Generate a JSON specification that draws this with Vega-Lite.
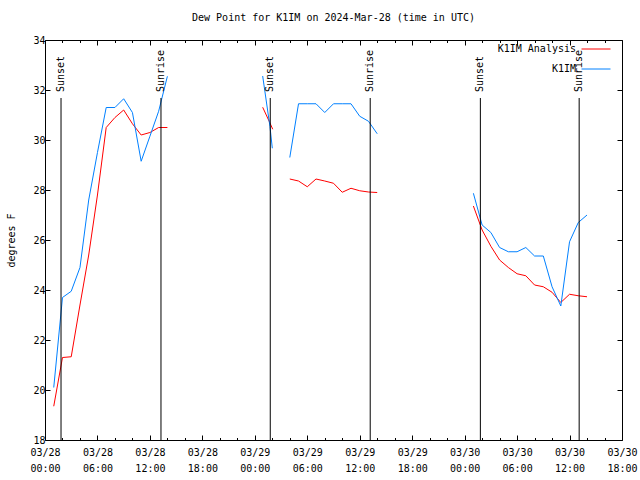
{
  "$schema": "https://vega.github.io/schema/vega-lite/v6.json",
  "width": 577,
  "height": 400,
  "autosize": {"type": "none"},
  "padding": {"left": 45, "top": 40, "right": 18, "bottom": 40},
  "background": "white",
  "title": {"text": "Dew Point for K1IM on 2024-Mar-28 (time in UTC)", "font": "DejaVu Sans Mono", "fontSize": 10, "fontWeight": "normal", "offset": 11, "anchor": "middle", "color": "black"},
  "config": {
    "view": {"stroke": "black", "strokeWidth": 1},
    "font": "DejaVu Sans Mono",
    "axis": {"domain": false, "grid": false, "labelFont": "DejaVu Sans Mono", "labelFontSize": 10, "labelColor": "black", "tickColor": "black", "titleFont": "DejaVu Sans Mono", "titleFontSize": 10, "titleFontWeight": "normal", "titleColor": "black"}
  },
  "datasets": {
    "dew": [
      {"t": "2024-03-28T01:00:00Z", "v": 19.35, "s": "K1IM Analysis", "g": "r1"},
      {"t": "2024-03-28T02:00:00Z", "v": 21.3, "s": "K1IM Analysis", "g": "r1"},
      {"t": "2024-03-28T03:00:00Z", "v": 21.33, "s": "K1IM Analysis", "g": "r1"},
      {"t": "2024-03-28T04:00:00Z", "v": 23.4, "s": "K1IM Analysis", "g": "r1"},
      {"t": "2024-03-28T05:00:00Z", "v": 25.4, "s": "K1IM Analysis", "g": "r1"},
      {"t": "2024-03-28T06:00:00Z", "v": 27.8, "s": "K1IM Analysis", "g": "r1"},
      {"t": "2024-03-28T07:00:00Z", "v": 30.5, "s": "K1IM Analysis", "g": "r1"},
      {"t": "2024-03-28T08:00:00Z", "v": 30.9, "s": "K1IM Analysis", "g": "r1"},
      {"t": "2024-03-28T09:00:00Z", "v": 31.2, "s": "K1IM Analysis", "g": "r1"},
      {"t": "2024-03-28T10:00:00Z", "v": 30.65, "s": "K1IM Analysis", "g": "r1"},
      {"t": "2024-03-28T11:00:00Z", "v": 30.2, "s": "K1IM Analysis", "g": "r1"},
      {"t": "2024-03-28T12:00:00Z", "v": 30.3, "s": "K1IM Analysis", "g": "r1"},
      {"t": "2024-03-28T13:00:00Z", "v": 30.5, "s": "K1IM Analysis", "g": "r1"},
      {"t": "2024-03-28T14:00:00Z", "v": 30.5, "s": "K1IM Analysis", "g": "r1"},
      {"t": "2024-03-28T01:00:00Z", "v": 20.1, "s": "K1IM", "g": "b1"},
      {"t": "2024-03-28T02:00:00Z", "v": 23.7, "s": "K1IM", "g": "b1"},
      {"t": "2024-03-28T03:00:00Z", "v": 23.95, "s": "K1IM", "g": "b1"},
      {"t": "2024-03-28T04:00:00Z", "v": 24.9, "s": "K1IM", "g": "b1"},
      {"t": "2024-03-28T05:00:00Z", "v": 27.6, "s": "K1IM", "g": "b1"},
      {"t": "2024-03-28T06:00:00Z", "v": 29.5, "s": "K1IM", "g": "b1"},
      {"t": "2024-03-28T07:00:00Z", "v": 31.3, "s": "K1IM", "g": "b1"},
      {"t": "2024-03-28T08:00:00Z", "v": 31.3, "s": "K1IM", "g": "b1"},
      {"t": "2024-03-28T09:00:00Z", "v": 31.65, "s": "K1IM", "g": "b1"},
      {"t": "2024-03-28T10:00:00Z", "v": 31.1, "s": "K1IM", "g": "b1"},
      {"t": "2024-03-28T11:00:00Z", "v": 29.15, "s": "K1IM", "g": "b1"},
      {"t": "2024-03-28T12:00:00Z", "v": 30.15, "s": "K1IM", "g": "b1"},
      {"t": "2024-03-28T13:00:00Z", "v": 31.15, "s": "K1IM", "g": "b1"},
      {"t": "2024-03-28T14:00:00Z", "v": 32.55, "s": "K1IM", "g": "b1"},
      {"t": "2024-03-29T00:54:00Z", "v": 31.31, "s": "K1IM Analysis", "g": "r2"},
      {"t": "2024-03-29T01:40:00Z", "v": 30.73, "s": "K1IM Analysis", "g": "r2"},
      {"t": "2024-03-29T02:03:00Z", "v": 30.43, "s": "K1IM Analysis", "g": "r2"},
      {"t": "2024-03-29T00:54:00Z", "v": 32.56, "s": "K1IM", "g": "b2"},
      {"t": "2024-03-29T01:44:00Z", "v": 30.53, "s": "K1IM", "g": "b2"},
      {"t": "2024-03-29T02:00:00Z", "v": 29.67, "s": "K1IM", "g": "b2"},
      {"t": "2024-03-29T04:00:00Z", "v": 28.44, "s": "K1IM Analysis", "g": "r3"},
      {"t": "2024-03-29T05:00:00Z", "v": 28.36, "s": "K1IM Analysis", "g": "r3"},
      {"t": "2024-03-29T06:00:00Z", "v": 28.13, "s": "K1IM Analysis", "g": "r3"},
      {"t": "2024-03-29T07:00:00Z", "v": 28.44, "s": "K1IM Analysis", "g": "r3"},
      {"t": "2024-03-29T08:00:00Z", "v": 28.36, "s": "K1IM Analysis", "g": "r3"},
      {"t": "2024-03-29T09:00:00Z", "v": 28.27, "s": "K1IM Analysis", "g": "r3"},
      {"t": "2024-03-29T10:00:00Z", "v": 27.91, "s": "K1IM Analysis", "g": "r3"},
      {"t": "2024-03-29T11:00:00Z", "v": 28.07, "s": "K1IM Analysis", "g": "r3"},
      {"t": "2024-03-29T12:00:00Z", "v": 27.97, "s": "K1IM Analysis", "g": "r3"},
      {"t": "2024-03-29T13:00:00Z", "v": 27.92, "s": "K1IM Analysis", "g": "r3"},
      {"t": "2024-03-29T14:00:00Z", "v": 27.9, "s": "K1IM Analysis", "g": "r3"},
      {"t": "2024-03-29T04:00:00Z", "v": 29.3, "s": "K1IM", "g": "b3"},
      {"t": "2024-03-29T05:00:00Z", "v": 31.45, "s": "K1IM", "g": "b3"},
      {"t": "2024-03-29T06:00:00Z", "v": 31.45, "s": "K1IM", "g": "b3"},
      {"t": "2024-03-29T07:00:00Z", "v": 31.45, "s": "K1IM", "g": "b3"},
      {"t": "2024-03-29T08:00:00Z", "v": 31.1, "s": "K1IM", "g": "b3"},
      {"t": "2024-03-29T09:00:00Z", "v": 31.45, "s": "K1IM", "g": "b3"},
      {"t": "2024-03-29T10:00:00Z", "v": 31.45, "s": "K1IM", "g": "b3"},
      {"t": "2024-03-29T11:00:00Z", "v": 31.45, "s": "K1IM", "g": "b3"},
      {"t": "2024-03-29T12:00:00Z", "v": 30.95, "s": "K1IM", "g": "b3"},
      {"t": "2024-03-29T13:00:00Z", "v": 30.75, "s": "K1IM", "g": "b3"},
      {"t": "2024-03-29T14:00:00Z", "v": 30.25, "s": "K1IM", "g": "b3"},
      {"t": "2024-03-30T01:00:00Z", "v": 27.36, "s": "K1IM Analysis", "g": "r4"},
      {"t": "2024-03-30T02:00:00Z", "v": 26.4, "s": "K1IM Analysis", "g": "r4"},
      {"t": "2024-03-30T03:00:00Z", "v": 25.75, "s": "K1IM Analysis", "g": "r4"},
      {"t": "2024-03-30T04:00:00Z", "v": 25.2, "s": "K1IM Analysis", "g": "r4"},
      {"t": "2024-03-30T05:00:00Z", "v": 24.9, "s": "K1IM Analysis", "g": "r4"},
      {"t": "2024-03-30T06:00:00Z", "v": 24.65, "s": "K1IM Analysis", "g": "r4"},
      {"t": "2024-03-30T07:00:00Z", "v": 24.57, "s": "K1IM Analysis", "g": "r4"},
      {"t": "2024-03-30T08:00:00Z", "v": 24.2, "s": "K1IM Analysis", "g": "r4"},
      {"t": "2024-03-30T09:00:00Z", "v": 24.13, "s": "K1IM Analysis", "g": "r4"},
      {"t": "2024-03-30T10:00:00Z", "v": 23.91, "s": "K1IM Analysis", "g": "r4"},
      {"t": "2024-03-30T11:00:00Z", "v": 23.5, "s": "K1IM Analysis", "g": "r4"},
      {"t": "2024-03-30T12:00:00Z", "v": 23.83, "s": "K1IM Analysis", "g": "r4"},
      {"t": "2024-03-30T13:00:00Z", "v": 23.77, "s": "K1IM Analysis", "g": "r4"},
      {"t": "2024-03-30T14:00:00Z", "v": 23.73, "s": "K1IM Analysis", "g": "r4"},
      {"t": "2024-03-30T01:00:00Z", "v": 27.87, "s": "K1IM", "g": "b4"},
      {"t": "2024-03-30T02:00:00Z", "v": 26.6, "s": "K1IM", "g": "b4"},
      {"t": "2024-03-30T03:00:00Z", "v": 26.3, "s": "K1IM", "g": "b4"},
      {"t": "2024-03-30T04:00:00Z", "v": 25.7, "s": "K1IM", "g": "b4"},
      {"t": "2024-03-30T05:00:00Z", "v": 25.53, "s": "K1IM", "g": "b4"},
      {"t": "2024-03-30T06:00:00Z", "v": 25.53, "s": "K1IM", "g": "b4"},
      {"t": "2024-03-30T07:00:00Z", "v": 25.7, "s": "K1IM", "g": "b4"},
      {"t": "2024-03-30T08:00:00Z", "v": 25.36, "s": "K1IM", "g": "b4"},
      {"t": "2024-03-30T09:00:00Z", "v": 25.36, "s": "K1IM", "g": "b4"},
      {"t": "2024-03-30T10:00:00Z", "v": 24.13, "s": "K1IM", "g": "b4"},
      {"t": "2024-03-30T11:00:00Z", "v": 23.36, "s": "K1IM", "g": "b4"},
      {"t": "2024-03-30T12:00:00Z", "v": 25.93, "s": "K1IM", "g": "b4"},
      {"t": "2024-03-30T13:00:00Z", "v": 26.7, "s": "K1IM", "g": "b4"},
      {"t": "2024-03-30T14:00:00Z", "v": 27.0, "s": "K1IM", "g": "b4"}
    ],
    "sun": [
      {"t": "2024-03-28T01:50:00Z", "label": "Sunset"},
      {"t": "2024-03-28T13:16:00Z", "label": "Sunrise"},
      {"t": "2024-03-29T01:46:00Z", "label": "Sunset"},
      {"t": "2024-03-29T13:12:00Z", "label": "Sunrise"},
      {"t": "2024-03-30T01:48:00Z", "label": "Sunset"},
      {"t": "2024-03-30T13:06:00Z", "label": "Sunrise"}
    ]
  },
  "layer": [
    {
      "data": {"name": "dew"},
      "mark": {"type": "line", "strokeWidth": 1},
      "encoding": {
        "x": {
          "field": "t", "type": "temporal",
          "scale": {"type": "utc", "domain": [{"year": 2024, "month": 3, "date": 28, "hours": 0, "utc": true}, {"year": 2024, "month": 3, "date": 30, "hours": 18, "utc": true}]},
          "axis": {
            "orient": "bottom", "title": null,
            "values": [
              {"year": 2024, "month": 3, "date": 28, "hours": 0, "utc": true},
              {"year": 2024, "month": 3, "date": 28, "hours": 6, "utc": true},
              {"year": 2024, "month": 3, "date": 28, "hours": 12, "utc": true},
              {"year": 2024, "month": 3, "date": 28, "hours": 18, "utc": true},
              {"year": 2024, "month": 3, "date": 29, "hours": 0, "utc": true},
              {"year": 2024, "month": 3, "date": 29, "hours": 6, "utc": true},
              {"year": 2024, "month": 3, "date": 29, "hours": 12, "utc": true},
              {"year": 2024, "month": 3, "date": 29, "hours": 18, "utc": true},
              {"year": 2024, "month": 3, "date": 30, "hours": 0, "utc": true},
              {"year": 2024, "month": 3, "date": 30, "hours": 6, "utc": true},
              {"year": 2024, "month": 3, "date": 30, "hours": 12, "utc": true},
              {"year": 2024, "month": 3, "date": 30, "hours": 18, "utc": true}
            ],
            "tickSize": -5,
            "labelExpr": "utcFormat(datum.value, '%m/%d')",
            "labelOverlap": false, "labelFlush": false, "labelBound": false,
            "labelPadding": 12
          }
        },
        "y": {
          "field": "v", "type": "quantitative",
          "scale": {"domain": [18, 34], "nice": false, "zero": false},
          "axis": {"orient": "left", "values": [18, 20, 22, 24, 26, 28, 30, 32, 34], "tickSize": -5, "labelPadding": 5, "title": "degrees F", "titlePadding": 16}
        },
        "color": {
          "field": "s", "type": "nominal",
          "scale": {"domain": ["K1IM Analysis", "K1IM"], "range": ["#ff0000", "#0080ff"]},
          "legend": {"orient": "none", "legendX": 536, "legendY": -6, "padding": 0, "title": null, "symbolType": "stroke", "symbolSize": 841, "symbolStrokeWidth": 1, "labelAlign": "right", "labelOffset": -35, "labelFont": "DejaVu Sans Mono", "labelFontSize": 10, "labelColor": "black", "rowPadding": -23}
        },
        "detail": {"field": "g"}
      }
    },
    {
      "data": {"name": "sun"},
      "mark": {"type": "rule", "color": "black", "strokeWidth": 1},
      "encoding": {
        "x": {
          "field": "t", "type": "temporal",
          "axis": {
            "orient": "top", "title": null, "labels": false, "tickSize": -5,
            "values": [
              {"year": 2024, "month": 3, "date": 28, "hours": 0, "utc": true},
              {"year": 2024, "month": 3, "date": 28, "hours": 6, "utc": true},
              {"year": 2024, "month": 3, "date": 28, "hours": 12, "utc": true},
              {"year": 2024, "month": 3, "date": 28, "hours": 18, "utc": true},
              {"year": 2024, "month": 3, "date": 29, "hours": 0, "utc": true},
              {"year": 2024, "month": 3, "date": 29, "hours": 6, "utc": true},
              {"year": 2024, "month": 3, "date": 29, "hours": 12, "utc": true},
              {"year": 2024, "month": 3, "date": 29, "hours": 18, "utc": true},
              {"year": 2024, "month": 3, "date": 30, "hours": 0, "utc": true},
              {"year": 2024, "month": 3, "date": 30, "hours": 6, "utc": true},
              {"year": 2024, "month": 3, "date": 30, "hours": 12, "utc": true},
              {"year": 2024, "month": 3, "date": 30, "hours": 18, "utc": true}
            ]
          }
        },
        "y": {"datum": 31.68, "type": "quantitative",
          "axis": {"orient": "right", "values": [18, 20, 22, 24, 26, 28, 30, 32, 34], "tickSize": -5, "labels": false, "title": null}},
        "y2": {"datum": 18}
      }
    },
    {
      "data": {"name": "sun"},
      "mark": {"type": "text", "angle": 270, "align": "left", "baseline": "middle", "font": "DejaVu Sans Mono", "fontSize": 10, "color": "black"},
      "encoding": {
        "x": {
          "field": "t", "type": "temporal",
          "axis": {
            "orient": "bottom", "title": null, "ticks": false, "tickSize": 0,
            "labelExpr": "utcFormat(datum.value, '%H:%M')",
            "labelOverlap": false, "labelFlush": false, "labelBound": false,
            "labelPadding": 23,
            "values": [
              {"year": 2024, "month": 3, "date": 28, "hours": 0, "utc": true},
              {"year": 2024, "month": 3, "date": 28, "hours": 6, "utc": true},
              {"year": 2024, "month": 3, "date": 28, "hours": 12, "utc": true},
              {"year": 2024, "month": 3, "date": 28, "hours": 18, "utc": true},
              {"year": 2024, "month": 3, "date": 29, "hours": 0, "utc": true},
              {"year": 2024, "month": 3, "date": 29, "hours": 6, "utc": true},
              {"year": 2024, "month": 3, "date": 29, "hours": 12, "utc": true},
              {"year": 2024, "month": 3, "date": 29, "hours": 18, "utc": true},
              {"year": 2024, "month": 3, "date": 30, "hours": 0, "utc": true},
              {"year": 2024, "month": 3, "date": 30, "hours": 6, "utc": true},
              {"year": 2024, "month": 3, "date": 30, "hours": 12, "utc": true},
              {"year": 2024, "month": 3, "date": 30, "hours": 18, "utc": true}
            ]
          }
        },
        "y": {"datum": 31.92, "type": "quantitative", "axis": null},
        "text": {"field": "label"}
      }
    },
    {
      "data": {"name": "sun"},
      "mark": {"type": "rule", "color": "black", "strokeWidth": 1, "opacity": 0},
      "encoding": {
        "x": {
          "field": "t", "type": "temporal",
          "axis": {
            "orient": "bottom", "title": null, "labels": false, "tickSize": -2.5,
            "values": [
              {"year": 2024, "month": 3, "date": 28, "hours": 2, "utc": true},
              {"year": 2024, "month": 3, "date": 28, "hours": 4, "utc": true},
              {"year": 2024, "month": 3, "date": 28, "hours": 8, "utc": true},
              {"year": 2024, "month": 3, "date": 28, "hours": 10, "utc": true},
              {"year": 2024, "month": 3, "date": 28, "hours": 14, "utc": true},
              {"year": 2024, "month": 3, "date": 28, "hours": 16, "utc": true},
              {"year": 2024, "month": 3, "date": 28, "hours": 20, "utc": true},
              {"year": 2024, "month": 3, "date": 28, "hours": 22, "utc": true},
              {"year": 2024, "month": 3, "date": 29, "hours": 2, "utc": true},
              {"year": 2024, "month": 3, "date": 29, "hours": 4, "utc": true},
              {"year": 2024, "month": 3, "date": 29, "hours": 8, "utc": true},
              {"year": 2024, "month": 3, "date": 29, "hours": 10, "utc": true},
              {"year": 2024, "month": 3, "date": 29, "hours": 14, "utc": true},
              {"year": 2024, "month": 3, "date": 29, "hours": 16, "utc": true},
              {"year": 2024, "month": 3, "date": 29, "hours": 20, "utc": true},
              {"year": 2024, "month": 3, "date": 29, "hours": 22, "utc": true},
              {"year": 2024, "month": 3, "date": 30, "hours": 2, "utc": true},
              {"year": 2024, "month": 3, "date": 30, "hours": 4, "utc": true},
              {"year": 2024, "month": 3, "date": 30, "hours": 8, "utc": true},
              {"year": 2024, "month": 3, "date": 30, "hours": 10, "utc": true},
              {"year": 2024, "month": 3, "date": 30, "hours": 14, "utc": true},
              {"year": 2024, "month": 3, "date": 30, "hours": 16, "utc": true}
            ]
          }
        },
        "y": {"datum": 31.68, "type": "quantitative", "axis": null},
        "y2": {"datum": 18}
      }
    },
    {
      "data": {"name": "sun"},
      "mark": {"type": "rule", "color": "black", "strokeWidth": 1, "opacity": 0},
      "encoding": {
        "x": {
          "field": "t", "type": "temporal",
          "axis": {
            "orient": "top", "title": null, "labels": false, "tickSize": -2.5,
            "values": [
              {"year": 2024, "month": 3, "date": 28, "hours": 2, "utc": true},
              {"year": 2024, "month": 3, "date": 28, "hours": 4, "utc": true},
              {"year": 2024, "month": 3, "date": 28, "hours": 8, "utc": true},
              {"year": 2024, "month": 3, "date": 28, "hours": 10, "utc": true},
              {"year": 2024, "month": 3, "date": 28, "hours": 14, "utc": true},
              {"year": 2024, "month": 3, "date": 28, "hours": 16, "utc": true},
              {"year": 2024, "month": 3, "date": 28, "hours": 20, "utc": true},
              {"year": 2024, "month": 3, "date": 28, "hours": 22, "utc": true},
              {"year": 2024, "month": 3, "date": 29, "hours": 2, "utc": true},
              {"year": 2024, "month": 3, "date": 29, "hours": 4, "utc": true},
              {"year": 2024, "month": 3, "date": 29, "hours": 8, "utc": true},
              {"year": 2024, "month": 3, "date": 29, "hours": 10, "utc": true},
              {"year": 2024, "month": 3, "date": 29, "hours": 14, "utc": true},
              {"year": 2024, "month": 3, "date": 29, "hours": 16, "utc": true},
              {"year": 2024, "month": 3, "date": 29, "hours": 20, "utc": true},
              {"year": 2024, "month": 3, "date": 29, "hours": 22, "utc": true},
              {"year": 2024, "month": 3, "date": 30, "hours": 2, "utc": true},
              {"year": 2024, "month": 3, "date": 30, "hours": 4, "utc": true},
              {"year": 2024, "month": 3, "date": 30, "hours": 8, "utc": true},
              {"year": 2024, "month": 3, "date": 30, "hours": 10, "utc": true},
              {"year": 2024, "month": 3, "date": 30, "hours": 14, "utc": true},
              {"year": 2024, "month": 3, "date": 30, "hours": 16, "utc": true}
            ]
          }
        },
        "y": {"datum": 31.68, "type": "quantitative", "axis": null},
        "y2": {"datum": 18}
      }
    }
  ],
  "resolve": {"axis": {"x": "independent", "y": "independent"}}
}
